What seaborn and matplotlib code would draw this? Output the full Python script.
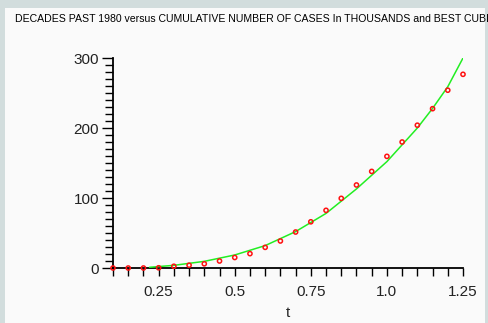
import numpy as np
import pandas as pd
import matplotlib
matplotlib.use("Agg")
import matplotlib.pyplot as plt
from matplotlib.patches import Rectangle
from matplotlib.ticker import MultipleLocator, FixedLocator
import seaborn as sns

# ================= DATA =================
# decades past 1980 and cumulative cases (thousands)
t_data = [0.10, 0.15, 0.20, 0.25, 0.30, 0.35, 0.40, 0.45, 0.50, 0.55, 0.60, 0.65,
          0.70, 0.75, 0.80, 0.85, 0.90, 0.95, 1.00, 1.05, 1.10, 1.15, 1.20, 1.25]
cases = [0.0, 0.0, 0.0, 0.3, 2.5, 4.0, 6.0, 10.0, 15.0, 20.5, 29.5, 38.6,
         51.4, 66.0, 82.4, 99.5, 118.6, 138.0, 159.5, 180.0, 204.0, 227.6, 254.0, 276.7]

# best cubic fit
t_fit = [0.22, 0.30, 0.40, 0.50, 0.60, 0.70, 0.80, 0.90, 1.00, 1.05, 1.10, 1.15, 1.20, 1.25]
fit_vals = [1.0, 3.8, 9.5, 18.6, 32.0, 52.0, 78.0, 113.0, 152.0, 176.0, 200.0, 228.0, 259.0, 300.0]

x_ticks = [0.25, 0.5, 0.75, 1.0, 1.25]
x_tick_labels = ["0.25", "0.5", "0.75", "1.0", "1.25"]
y_ticks = [0, 100, 200, 300]

# title as visible in the window (cut at the right edge there)
title = "DECADES PAST 1980 versus CUMULATIVE NUMBER OF CASES In THOUSANDS and BEST CUBI"

df_pts = pd.DataFrame({"t": t_data, "cases": cases})
df_fit = pd.DataFrame({"t": t_fit, "cases": fit_vals})

# ================= PLOT =================
sns.set_style("white")
plt.rcParams["font.family"] = ["Liberation Sans", "DejaVu Sans"]

fig = plt.figure(figsize=(4.89, 3.23), dpi=100, facecolor="#d2dddd")
# white panel inside the bluish frame
fig.patches.append(Rectangle((5 / 489, 0), 480 / 489, 315 / 323, transform=fig.transFigure,
                             facecolor="#fafafa", edgecolor="none", zorder=-5))

ax = fig.add_axes([113 / 489, 55 / 323, 350 / 489, 210 / 323])
ax.set_zorder(2)
ax.set_facecolor("none")

sns.lineplot(data=df_fit, x="t", y="cases", ax=ax, color="#22ee22", lw=1.1, zorder=3)
sns.scatterplot(data=df_pts, x="t", y="cases", ax=ax, marker="o", s=9,
                facecolor="none", edgecolor="#ff1010", linewidth=1.1, zorder=4,
                clip_on=False)

ax.set_xlim(0.1, 1.25)
ax.set_ylim(0, 300)

ax.xaxis.set_major_locator(FixedLocator(x_ticks))
ax.set_xticklabels(x_tick_labels)
ax.xaxis.set_minor_locator(MultipleLocator(0.05))
ax.yaxis.set_major_locator(FixedLocator(y_ticks))
ax.yaxis.set_minor_locator(MultipleLocator(10))

for s in ["top", "right"]:
    ax.spines[s].set_visible(False)
for s in ["left", "bottom"]:
    ax.spines[s].set_color("black")
    ax.spines[s].set_linewidth(1.3)

ax.tick_params(axis="both", which="both", direction="out", color="black", width=1.0,
               bottom=True, left=True, labelsize=11, labelcolor="#222222")
ax.tick_params(axis="x", which="both", length=6, pad=6)
ax.tick_params(axis="y", which="major", length=8, pad=2)
ax.tick_params(axis="y", which="minor", length=6)

ax.set_xlabel("t", fontsize=11, labelpad=5)
ax.set_ylabel("")

fig.text(15 / 489, 1 - 19 / 323, title, fontsize=7.6, va="center", ha="left", color="black")

plt.savefig("out.png", dpi=100, facecolor=fig.get_facecolor())
